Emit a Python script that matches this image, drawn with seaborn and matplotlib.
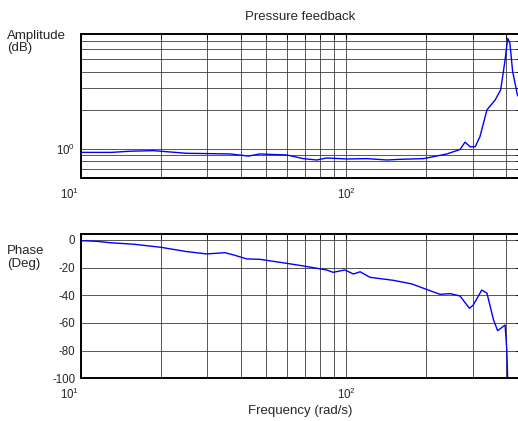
import numpy as np
import pandas as pd
import matplotlib
matplotlib.use("Agg")
import matplotlib.pyplot as plt
import matplotlib.transforms as mtransforms
import seaborn as sns
from matplotlib.ticker import LogLocator, NullFormatter, FixedLocator

# Amplitude data (freq in rad/s, amplitude)
amp_freq = [10, 13, 15.3, 18.7, 20, 25, 30, 36.5, 42.8, 47.3, 53, 59.7, 69, 77.5,
            84.5, 100.6, 120, 142.6, 160, 196, 240, 269, 281, 294, 307, 320, 340,
            365, 383, 398, 407, 415, 425, 443, 457]
amp_val = [0.94, 0.94, 0.96, 0.97, 0.96, 0.925, 0.92, 0.914, 0.88, 0.914, 0.905,
           0.898, 0.84, 0.82, 0.85, 0.835, 0.84, 0.82, 0.83, 0.84, 0.914, 0.99,
           1.13, 1.04, 1.04, 1.25, 2.02, 2.41, 2.89, 4.95, 7.3, 6.7, 4.02, 2.64, 2.4]

# Phase data (freq in rad/s, degrees)
ph_freq = [10, 11.5, 12.9, 15.8, 20, 25, 29.8, 34.9, 37.6, 42.2, 47.3, 59.7, 69,
           84.5, 89.3, 99, 106.6, 113, 123, 151, 177, 201, 226, 247, 269, 292,
           302, 325, 340, 360, 373, 398, 404, 407]
ph_val = [-0.5, -1, -2, -3.1, -5.3, -8.4, -10.1, -9.2, -10.8, -13.7, -14, -16.9,
          -18.8, -21.7, -23.4, -21.7, -24.6, -23, -27, -29.2, -31.8, -35.7, -39.3,
          -38.8, -40.5, -49.4, -47, -36.2, -38.5, -57.8, -65.6, -61.5, -79.5, -100]

title = "Pressure feedback"
xlabel = "Frequency (rad/s)"
phase_ticks = [0, -20, -40, -60, -80, -100]

sns.set_style("white")
plt.rcParams['font.family'] = ['Liberation Sans', 'DejaVu Sans']
plt.rcParams['mathtext.fontset'] = 'custom'
plt.rcParams['mathtext.rm'] = 'Liberation Sans'
plt.rcParams['mathtext.it'] = 'Liberation Sans'

W, H = 518, 421
fig = plt.figure(figsize=(W / 100, H / 100), dpi=100)
left = 81 / W
width = 440 / W
ax1 = fig.add_axes([left, 1 - 178.3 / H, width, 144.3 / H])
ax2 = fig.add_axes([left, 1 - 378.3 / H, width, 144.3 / H])

df_a = pd.DataFrame({"f": amp_freq, "a": amp_val})
df_p = pd.DataFrame({"f": ph_freq, "p": ph_val})
sns.lineplot(data=df_a, x="f", y="a", ax=ax1, color="#0000ff", lw=1.0, sort=False)
sns.lineplot(data=df_p, x="f", y="p", ax=ax2, color="#0000ff", lw=1.0, sort=False)

for ax in (ax1, ax2):
    ax.set_xscale("log")
    ax.set_xlim(10, 457)
    ax.xaxis.set_major_locator(LogLocator(base=10))
    ax.xaxis.set_minor_locator(LogLocator(base=10, subs=np.arange(2, 10)))
    ax.xaxis.set_minor_formatter(NullFormatter())
    ax.grid(True, which="both", color="#3a3a3a", lw=0.6)
    ax.tick_params(which="both", direction="in", top=True, right=True,
                   labelsize=8.3, length=3.5, color="black")
    ax.tick_params(axis="x", pad=6)
    ax.tick_params(axis="y", pad=4)
    ax.set_xlabel("")
    ax.set_ylabel("")
    for s in ax.spines.values():
        s.set_color("black")
        s.set_linewidth(1.4)

ax1.set_yscale("log")
ax1.set_ylim(0.59, 7.9)
ax1.yaxis.set_major_locator(LogLocator(base=10))
ax1.yaxis.set_minor_locator(LogLocator(base=10, subs=np.arange(2, 10)))
ax1.yaxis.set_minor_formatter(NullFormatter())

ax2.set_ylim(-100, 4.3)
ax2.yaxis.set_major_locator(FixedLocator(phase_ticks))
ax2.set_yticklabels([str(t) for t in phase_ticks])

fig.text(300.5 / W, 1 - 17.3 / H, title, fontsize=9.5, ha="center", va="center")
fig.text(300.5 / W, 1 - 411 / H, xlabel, fontsize=9.5, ha="center", va="center")

fig.text(7 / W, 1 - 35.5 / H, "Amplitude", fontsize=9.5, va="center", ha="left")
fig.text(7 / W, 1 - 48.5 / H, "(dB)", fontsize=9.5, va="center", ha="left")
fig.text(7 / W, 1 - 251.5 / H, "Phase", fontsize=9.5, va="center", ha="left")
fig.text(7 / W, 1 - 264.5 / H, "(Deg)", fontsize=9.5, va="center", ha="left")

# shift first x tick label left (as in the reference layout)
fig.canvas.draw()
shift = mtransforms.ScaledTranslation(-12 / 100, 0, fig.dpi_scale_trans)
for ax in (ax1, ax2):
    for lab in ax.get_xticklabels():
        if lab.get_text() and "{1}" in lab.get_text():
            lab.set_transform(lab.get_transform() + shift)

fig.savefig("out.png", dpi=100)
